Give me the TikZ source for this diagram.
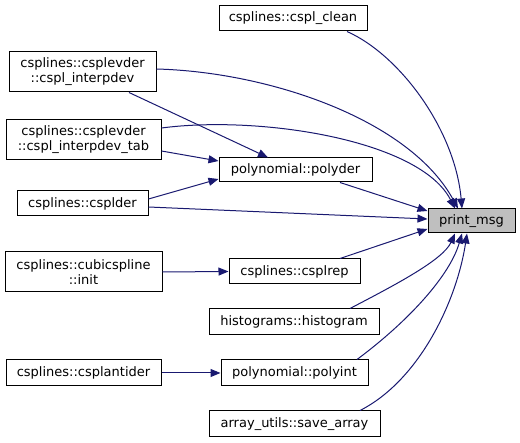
\documentclass[tikz,border=0pt]{standalone}
\usepackage{fontspec}
\setmainfont{DejaVu Sans}
\usetikzlibrary{arrows.meta}
\definecolor{edgeblue}{HTML}{191970}
\definecolor{hlgray}{HTML}{BFBFBF}
\tikzset{
  fn/.style={draw=black, fill=white, line width=1pt, inner sep=0pt, align=center,
    font=\fontsize{13}{15}\selectfont},
  hl/.style={fn, fill=hlgray},
  edge/.style={draw=edgeblue, line width=1pt, -{Triangle[length=10pt,width=8pt]}},
}
\begin{document}
\begin{tikzpicture}[x=1pt,y=-1pt]
\useasboundingbox (0,0) rectangle (520,443);
\node[fn, minimum width=148pt, minimum height=25pt] (clean) at (293,18.5) {csplines::cspl\_clean};
\node[fn, minimum width=147pt, minimum height=40pt] (idev) at (82.5,72) {csplines::csplevder\\::cspl\_interpdev};
\node[fn, minimum width=155pt, minimum height=40pt] (itab) at (83.5,140) {csplines::csplevder\\::cspl\_interpdev\_tab};
\node[fn, minimum width=153pt, minimum height=24pt] (polyder) at (295.5,170) {polynomial::polyder};
\node[fn, minimum width=131pt, minimum height=25pt] (cspld) at (82.5,203.5) {csplines::csplder};
\node[hl, minimum width=87pt, minimum height=24pt] (pm) at (471.5,221) {print\_msg};
\node[fn, minimum width=157pt, minimum height=40pt] (cinit) at (83.5,272) {csplines::cubicspline\\::init};
\node[fn, minimum width=131pt, minimum height=25pt] (crep) at (294.5,271.5) {csplines::csplrep};
\node[fn, minimum width=170pt, minimum height=26pt] (hist) at (294,322) {histograms::histogram};
\node[fn, minimum width=155pt, minimum height=26pt] (canti) at (83.5,373) {csplines::csplantider};
\node[fn, minimum width=147pt, minimum height=26pt] (polyint) at (294.5,373) {polynomial::polyint};
\node[fn, minimum width=171pt, minimum height=26pt] (save) at (294.5,424) {array\_utils::save\_array};

% edges
\draw[edge] ([xshift=54pt]clean.south) .. controls (400,55) and (455,130) .. ([xshift=-9.5pt]pm.north);
\draw[edge] ([yshift=3pt]idev.east) .. controls (270,72) and (410,120) .. ([xshift=-13.5pt]pm.north);
\draw[edge] ([xshift=46.5pt]idev.south) -- ([xshift=-27.5pt]polyder.north);
\draw[edge] ([yshift=12pt]itab.east) .. controls (260,115) and (420,140) .. ([xshift=-16.5pt]pm.north);
\draw[edge] ([yshift=-11pt]itab.east) -- ([yshift=9pt]polyder.west);
\draw[edge] ([xshift=44.5pt]polyder.south) -- ([yshift=10pt]pm.west);
\draw[edge] ([yshift=4.5pt]cspld.east) -- ([yshift=-9pt]polyder.west);
\draw[edge] ([yshift=-3.5pt]cspld.east) -- ([yshift=2pt]pm.west);
\draw[edge] ([xshift=45.5pt]crep.north) -- ([yshift=-8pt]pm.west);
\draw[edge] (cinit.east) -- (crep.west);
\draw[edge] ([xshift=56pt]hist.north) .. controls (395,285) and (443,260) .. ([xshift=-16.5pt]pm.south);
\draw[edge] (canti.east) -- (polyint.west);
\draw[edge] ([xshift=62.5pt]polyint.north) .. controls (410,320) and (450,275) .. ([xshift=-9.5pt]pm.south);
\draw[edge] ([xshift=65.5pt]save.north) .. controls (420,380) and (457,300) .. ([xshift=-4.5pt]pm.south);
\end{tikzpicture}
\end{document}
